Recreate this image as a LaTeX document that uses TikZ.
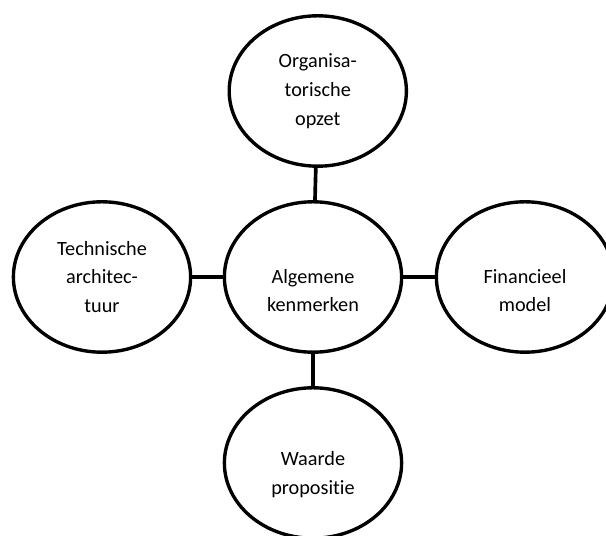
\documentclass[tikz,border=0pt]{standalone}
\usepackage{fontspec}
\setmainfont{Carlito}[Ligatures=NoCommon]
\usepackage{tikz}
\usetikzlibrary{shapes.geometric}

\begin{document}
\begin{tikzpicture}[
  bubble/.style={ellipse, draw=black, line width=2.4pt, fill=white,
                 minimum width=4.43cm, minimum height=3.76cm, inner sep=0pt,
                 font=\fontsize{14.4}{20.5}\selectfont, align=center},
  words/.style={font=\fontsize{14.4}{20.5}\selectfont, align=center},
  link/.style={draw=black, line width=2.6pt},
]
  \useasboundingbox (-7.825,-6.475) rectangle (7.325,6.925);

  \node[bubble] (org) at (0.12,4.65) {Organisa-\\torische\\opzet};
  \node[bubble] (tech) at (-5.275,0) {Technische\\architec-\\tuur};
  \node[bubble, label={[words, yshift=-0.34cm]center:Algemene\\kenmerken}] (alg) at (0,0) {};
  \node[bubble, label={[words, yshift=-0.34cm]center:Financieel\\model}] (fin) at (5.3,0) {};
  \node[bubble, label={[words, yshift=-0.28cm]center:Waarde\\propositie}] (wrd) at (0,-4.65) {};

  \draw[link] (org) -- (alg);
  \draw[link] (tech) -- (alg);
  \draw[link] (alg) -- (fin);
  \draw[link] (alg) -- (wrd);
\end{tikzpicture}
\end{document}
